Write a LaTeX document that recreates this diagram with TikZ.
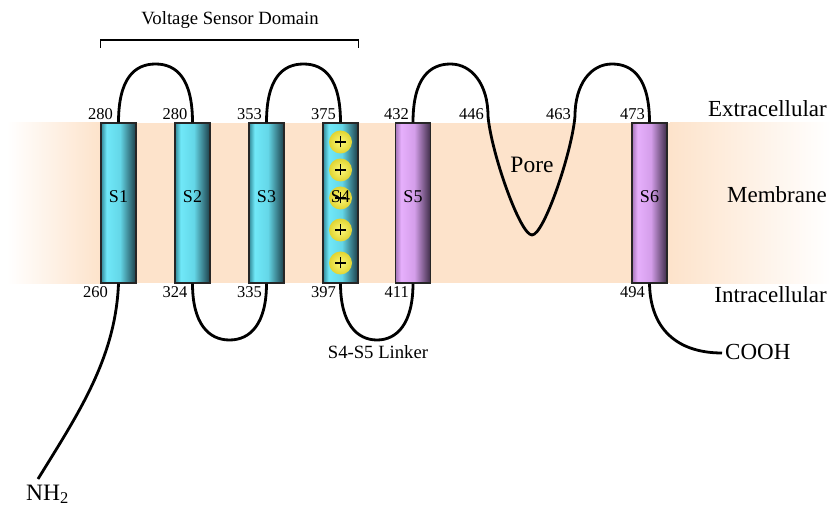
\documentclass[tikz,border=0pt]{standalone}
\usepackage{fontspec}
\setmainfont{Liberation Serif}

% colours
\definecolor{membrane}{RGB}{253,227,203}
\definecolor{cyA}{RGB}{50,135,150}
\definecolor{cyB}{RGB}{112,232,248}
\definecolor{cyC}{RGB}{100,215,232}
\definecolor{cyD}{RGB}{28,62,72}
\definecolor{puA}{RGB}{165,118,185}
\definecolor{puB}{RGB}{230,175,252}
\definecolor{puC}{RGB}{212,158,234}
\definecolor{puD}{RGB}{62,44,72}
\definecolor{chgIn}{RGB}{252,248,120}
\definecolor{chgOut}{RGB}{225,212,50}

% cylinder-like shadings for the helices (bbox maps to 25bp..75bp)
\pgfdeclarehorizontalshading{cyanhelix}{100bp}{color(0bp)=(cyA); color(25bp)=(cyA);
  color(33bp)=(cyB); color(52bp)=(cyC); color(75bp)=(cyD); color(100bp)=(cyD)}
\pgfdeclarehorizontalshading{purplehelix}{100bp}{color(0bp)=(puA); color(25bp)=(puA);
  color(33bp)=(puB); color(52bp)=(puC); color(75bp)=(puD); color(100bp)=(puD)}

\tikzset{
  helix/.style={rectangle, draw=black!85, line width=1.1pt, inner sep=0pt,
    minimum width=35pt, minimum height=160pt, shade},
  vsdhelix/.style={helix, shading=cyanhelix},
  porehelix/.style={helix, shading=purplehelix},
  chain/.style={line width=2.8pt, black, line join=round},
  hname/.style={anchor=base, inner sep=0pt, font=\fontsize{18}{20}\selectfont},
  resnum/.style={inner sep=0pt, font=\fontsize{16.5}{18}\selectfont},
  topnum/.style={resnum, anchor=base east},
  botnum/.style={resnum, anchor=base east},
  region/.style={anchor=base east, inner sep=0pt, font=\fontsize{23}{26}\selectfont},
  caption/.style={anchor=base, inner sep=0pt, font=\fontsize{18.7}{21}\selectfont},
  charge/.style={circle, minimum size=23pt, inner sep=0pt, inner color=chgIn, outer color=chgOut,
    path picture={
      \draw[line width=1.1pt] ([xshift=-5.5pt]path picture bounding box.center) -- ([xshift=5.5pt]path picture bounding box.center);
      \draw[line width=1.1pt] ([yshift=-5.5pt]path picture bounding box.center) -- ([yshift=5.5pt]path picture bounding box.center);
    }},
}

\begin{document}
\begin{tikzpicture}[x=1pt, y=-1pt]
\useasboundingbox (0,0) rectangle (831,508);

% lipid bilayer band, fading out at both ends
\fill[left color=white, right color=membrane] (7,123) rectangle (100,283);
\fill[membrane] (99.5,123) rectangle (670.5,283);
\fill[left color=membrane, right color=white] (670,123) rectangle (831,283);

% transmembrane helices
\node[vsdhelix] (s1) at (118.5,203) {};
\node[vsdhelix] (s2) at (192.5,203) {};
\node[vsdhelix] (s3) at (266.5,203) {};
\node[vsdhelix] (s4) at (340.5,203) {};
\node[porehelix] (s5) at (413,203) {};
\node[porehelix] (s6) at (649.5,203) {};

% loop turning points
\coordinate (a12) at (155.5,64);
\coordinate (a34) at (303.5,64);
\coordinate (a5)  at (450.5,64);
\coordinate (a6)  at (612,64);
\coordinate (b23) at (229.5,340);
\coordinate (b45) at (377,340);
\coordinate (p1)  at (488,116);
\coordinate (pb)  at (532,235);
\coordinate (p2)  at (575,116);
\coordinate (nt)  at (38,479);
\coordinate (ct)  at (722,353);

% extracellular loops
\draw[chain] (s1.north) .. controls +(0,-44) and +(-21,0) .. (a12)
             .. controls +(21,0) and +(0,-44) .. (s2.north);
\draw[chain] (s3.north) .. controls +(0,-44) and +(-21,0) .. (a34)
             .. controls +(21,0) and +(0,-44) .. (s4.north);
% S5 - pore loop - S6
\draw[chain] (s5.north) .. controls +(0,-44) and +(-21,0) .. (a5)
             .. controls +(21,0) and +(0,-32) .. (p1)
             .. controls +(3,36) and +(-12,0) .. (pb)
             .. controls +(12,0) and +(-3,36) .. (p2)
             .. controls +(0,-32) and +(-21,0) .. (a6)
             .. controls +(21,0) and +(0,-44) .. (s6.north);
% intracellular loops
\draw[chain] (s2.south) .. controls +(0,40) and +(-21,0) .. (b23)
             .. controls +(21,0) and +(0,40) .. (s3.south);
\draw[chain] (s4.south) .. controls +(0,40) and +(-20,0) .. (b45)
             .. controls +(20,0) and +(0,40) .. (s5.south);
% termini
\draw[chain] (s1.south) .. controls +(-3,75) and +(40,-65) .. (nt);
\draw[chain] (s6.south) .. controls +(1,50) and +(-40,0) .. (ct);

% gating charges on S4
\node[charge] (q1) at (340.5,142) {};
\node[charge] (q2) at (340.5,170) {};
\node[charge] (q3) at (340.5,198) {};
\node[charge] (q4) at (340.5,230) {};
\node[charge] (q5) at (340.5,263) {};

% helix names
\node[hname] at (s1.center) {S1};
\node[hname] at (s2.center) {S2};
\node[hname] at (s3.center) {S3};
\node[hname] at (s4.center) {S4};
\node[hname] at (s5.center) {S5};
\node[hname] at (s6.center) {S6};

% residue numbers
\node[topnum] at (113,120) {280};
\node[topnum] at (187.5,120) {280};
\node[topnum] at (262,120) {353};
\node[topnum] at (336,120) {375};
\node[topnum] at (409,120) {432};
\node[topnum] at (484,120) {446};
\node[topnum] at (571,120) {463};
\node[topnum] at (645,120) {473};
\node[botnum] at (108,298) {260};
\node[botnum] at (187.5,298) {324};
\node[botnum] at (262,298) {335};
\node[botnum] at (336,298) {397};
\node[botnum] at (409,298) {411};
\node[botnum] at (645,298) {494};

% voltage sensor domain bracket
\draw[line width=1.3pt] (s1.west |- 0,48) -- (s1.west |- 0,40) -- (s4.east |- 0,40) -- (s4.east |- 0,48);
\node[caption] (vsd) at (230,25) {Voltage Sensor Domain};
\node[caption] (lnk) at (378,358) {S4-S5 Linker};
\node[anchor=base, inner sep=0pt, font=\fontsize{23.5}{26}\selectfont] (pore) at (532,173) {Pore};

% compartment labels
\node[region] (ext) at (827,117) {Extracellular};
\node[region] (mem) at (827,203) {Membrane};
\node[region] (int) at (827,302) {Intracellular};

% termini labels
\node[anchor=base west, inner sep=0pt, font=\fontsize{23}{26}\selectfont] (cooh) at (725,359) {COOH};
\node[anchor=base west, inner sep=0pt, font=\fontsize{23.5}{26}\selectfont] (nh2) at (26,500) {NH\textsubscript{2}};
\end{tikzpicture}
\end{document}
